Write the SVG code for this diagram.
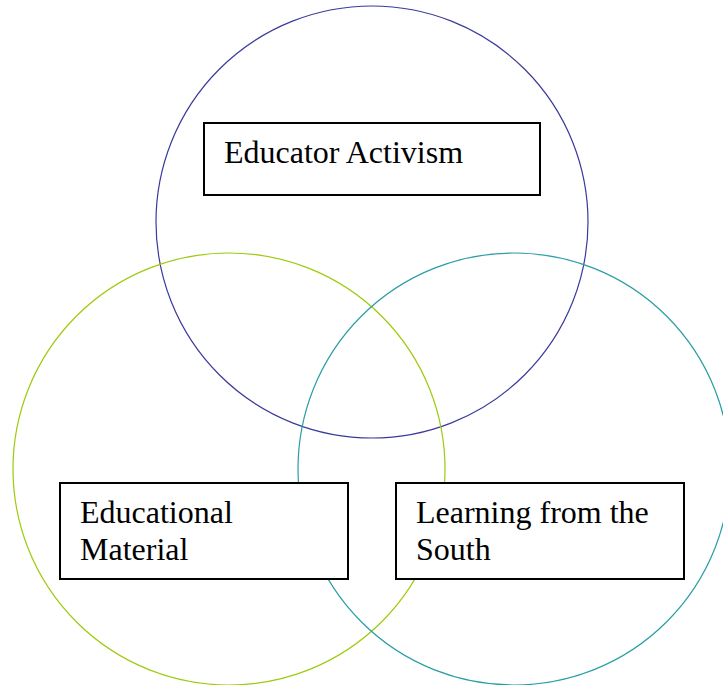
<svg xmlns="http://www.w3.org/2000/svg" width="723" height="685" viewBox="0 0 723 685">
<style>
.c{fill:none;stroke-width:1.2}
.b{fill:#fff;stroke:#000;stroke-width:2}
.t{font-family:"Liberation Serif","Times New Roman",serif;font-size:32px;fill:#000}
</style>
<rect width="723" height="685" fill="#fff"/>
<g id="connectors"></g>
<g id="circle-top"><circle class="c" cx="372" cy="222" r="216" stroke="#3a3a9c"/></g>
<g id="circle-left"><circle class="c" cx="229" cy="469" r="216" stroke="#9dcb0c"/></g>
<g id="circle-right"><circle class="c" cx="514" cy="469" r="216" stroke="#2a9ea5"/></g>
<g id="node-educator-activism">
<rect class="b" x="204" y="123" width="336" height="72"/>
<text class="t" x="224" y="163">Educator Activism</text>
</g>
<g id="node-educational-material">
<rect class="b" x="60" y="483" width="288" height="96"/>
<text class="t" x="80" y="523">Educational</text>
<text class="t" x="80" y="560">Material</text>
</g>
<g id="node-learning-south">
<rect class="b" x="396" y="483" width="288" height="96"/>
<text class="t" x="416" y="523">Learning from the</text>
<text class="t" x="416" y="560">South</text>
</g>
</svg>
